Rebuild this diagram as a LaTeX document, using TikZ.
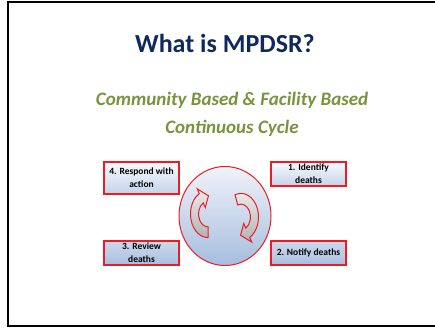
\documentclass[tikz,border=0pt]{standalone}
\usepackage{fontspec}
\setmainfont{Carlito}
\usetikzlibrary{shapes,arrows,positioning,calc}
\definecolor{navy}{RGB}{16,40,96}
\definecolor{olive}{RGB}{119,147,60}
\definecolor{rim}{RGB}{236,28,36}
\tikzstyle{stage} = [draw=rim,line width=1.2pt,rectangle,minimum width=75pt,inner sep=1pt,align=center,font=\bfseries\fontsize{9.5}{13}\selectfont]
\tikzstyle{pale} = [top color={rgb,255:red,248;green,250;blue,253},bottom color={rgb,255:red,196;green,211;blue,233}]
\tikzstyle{deep} = [top color={rgb,255:red,204;green,217;blue,236},bottom color={rgb,255:red,170;green,191;blue,222}]
\tikzstyle{turn} = [draw=rim,line width=1pt,top color=gray!15,bottom color=gray!60]
\def \ri {9.5}
\def \ro {17.5}
% curved arrow: centre, tail angle, head angle
\newcommand\turnarrow[3]{%
  \begin{scope}[shift={(#1)},yscale=1.35]
  \path[turn] (#2:\ro) arc[start angle=#2,end angle=#3,radius=\ro]
    -- (#3:21.5) -- ({#3+32}:13.5) -- (#3:5.5)
    -- (#3:\ri) arc[start angle=#3,end angle=#2,radius=\ri] -- cycle;
  \end{scope}}

\begin{document}
\begin{tikzpicture}[x=1pt,y=-1pt]
  \useasboundingbox (0,0) rectangle (435,329);
  % slide frame
  \draw[line width=1.2pt] (8,2) -- (435,2);
  \draw[line width=2pt] (8,1) -- (8,326) -- (435,326);

  \node[text=navy,font=\bfseries\fontsize{26}{30}\selectfont] (title) at (225,43) {What is MPDSR?};
  \node[text=olive,font=\bfseries\itshape\fontsize{19}{22}\selectfont] (sub1) at (232,100) {Community Based \& Facility Based};
  \node[text=olive,font=\bfseries\itshape\fontsize{19}{22}\selectfont] (sub2) at (232,128) {Continuous Cycle};

  \node[ellipse,draw=rim,line width=1pt,minimum width=92pt,minimum height=99pt,
        top color={rgb,255:red,240;green,243;blue,249},bottom color={rgb,255:red,166;green,189;blue,222}] (cyc) at (225,216) {};
  \coordinate (cl) at (208,214);
  \coordinate (cr) at (241,217);
  \turnarrow{cl}{90}{240}
  \turnarrow{cr}{-110}{60}

  \node[stage,pale,minimum height=32pt] (s4) at (141.5,178) {4. Respond with\\action};
  \node[stage,pale,minimum height=24pt] (s1) at (308.5,174) {1. Identify\\deaths};
  \node[stage,deep,minimum height=24pt] (s3) at (141.5,253) {3. Review\\deaths};
  \node[stage,deep,minimum height=24pt] (s2) at (308.5,253) {2. Notify deaths};
\end{tikzpicture}
\end{document}
